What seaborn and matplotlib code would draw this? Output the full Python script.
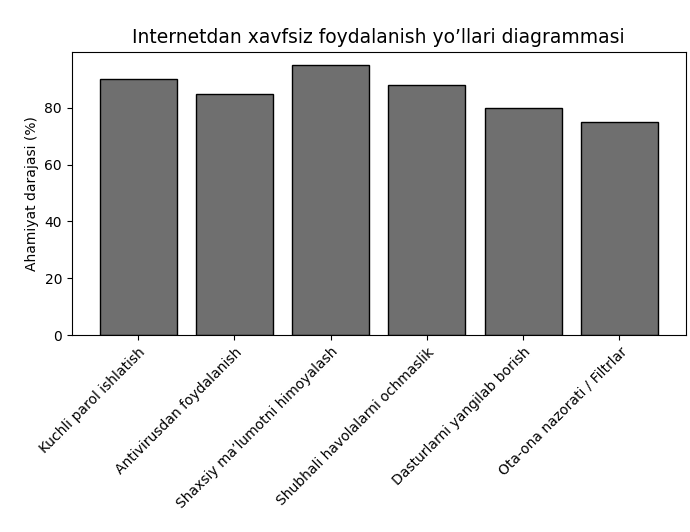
import matplotlib
matplotlib.use("Agg")
import matplotlib.pyplot as plt
import seaborn as sns
import pandas as pd

categories = [
    "Kuchli parol ishlatish",
    "Antivirusdan foydalanish",
    "Shaxsiy ma\u2019lumotni himoyalash",
    "Shubhali havolalarni ochmaslik",
    "Dasturlarni yangilab borish",
    "Ota-ona nazorati / Filtrlar",
]
values = [90, 85, 95, 88, 80, 75]

df = pd.DataFrame({"usul": categories, "daraja": values})

fig = plt.figure(figsize=(6.9, 5.32), dpi=100)
ax = fig.add_axes([0.104, 0.37, 0.89, 0.533])

sns.barplot(data=df, x="usul", y="daraja", color="#6f6f6f", saturation=1,
            edgecolor="black", linewidth=1.0, width=0.8, ax=ax)

ax.set_xlim(-0.69, 5.69)
ax.set_ylim(0, 99.75)
ax.set_yticks([0, 20, 40, 60, 80])
ax.set_title("Internetdan xavfsiz foydalanish yo\u2019llari diagrammasi", fontsize=13.5)
ax.set_ylabel("Ahamiyat darajasi (%)")
ax.set_xlabel("")
plt.setp(ax.get_xticklabels(), rotation=45, ha="right", rotation_mode="anchor")

fig.savefig("out.png", dpi=100)
